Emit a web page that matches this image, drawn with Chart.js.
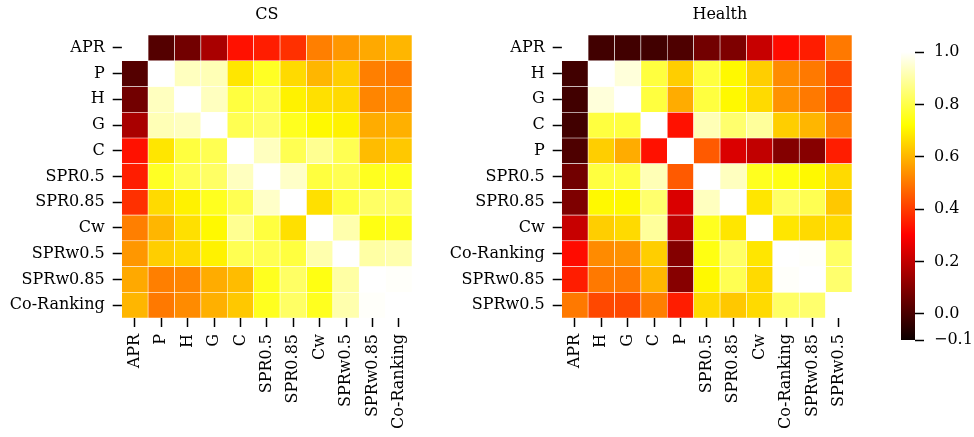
<!DOCTYPE html>
<html>
<head>
<meta charset="utf-8">
<script src="https://cdn.jsdelivr.net/npm/chart.js@4.4.1/dist/chart.umd.min.js"></script>
<style>
  html, body { margin: 0; padding: 0; background: #fff; }
  body { width: 974px; height: 437px; position: relative; overflow: hidden; }
  .box { position: absolute; top: 0; height: 437px; }
  canvas { display: block; }
</style>
</head>
<body>
<div class="box" style="left:0px;width:440px;"><canvas id="cs" width="440" height="437"></canvas></div>
<div class="box" style="left:440px;width:440px;"><canvas id="health" width="440" height="437"></canvas></div>
<div class="box" style="left:880px;width:94px;"><canvas id="cbar" width="94" height="437"></canvas></div>
<script>
// ---------------- data ----------------
const VMIN = -0.1;
const VMAX = 1.0;
const colorbarTicks = [-0.1, 0.0, 0.2, 0.4, 0.6, 0.8, 1.0];

const csTitle = 'CS';
const csLabels = ['APR', 'P', 'H', 'G', 'C', 'SPR0.5', 'SPR0.85', 'Cw', 'SPRw0.5', 'SPRw0.85', 'Co-Ranking'];
const csValues = [
  [1.00, 0.02, 0.07, 0.16, 0.33, 0.35, 0.38, 0.51, 0.55, 0.58, 0.60],
  [0.02, 1.00, 0.93, 0.92, 0.68, 0.76, 0.66, 0.60, 0.64, 0.51, 0.50],
  [0.07, 0.93, 1.00, 0.93, 0.79, 0.81, 0.70, 0.67, 0.66, 0.52, 0.53],
  [0.16, 0.92, 0.93, 1.00, 0.81, 0.83, 0.755, 0.71, 0.70, 0.585, 0.59],
  [0.33, 0.68, 0.79, 0.81, 1.00, 0.93, 0.81, 0.88, 0.81, 0.61, 0.63],
  [0.35, 0.76, 0.81, 0.83, 0.93, 1.00, 0.94, 0.79, 0.81, 0.755, 0.755],
  [0.38, 0.66, 0.70, 0.755, 0.81, 0.94, 1.00, 0.67, 0.79, 0.83, 0.83],
  [0.51, 0.60, 0.67, 0.71, 0.88, 0.79, 0.67, 1.00, 0.91, 0.74, 0.755],
  [0.55, 0.64, 0.66, 0.70, 0.81, 0.81, 0.79, 0.91, 1.00, 0.90, 0.91],
  [0.58, 0.51, 0.52, 0.585, 0.61, 0.755, 0.83, 0.74, 0.90, 1.00, 0.995],
  [0.60, 0.50, 0.53, 0.59, 0.63, 0.755, 0.83, 0.755, 0.91, 0.995, 1.00]
];

const healthTitle = 'Health';
const healthLabels = ['APR', 'H', 'G', 'C', 'P', 'SPR0.5', 'SPR0.85', 'Cw', 'Co-Ranking', 'SPRw0.85', 'SPRw0.5'];
const healthValues = [
  [1.00, -0.01, -0.01, -0.01, 0.01, 0.07, 0.09, 0.21, 0.32, 0.35, 0.50],
  [-0.01, 1.00, 0.96, 0.79, 0.64, 0.79, 0.71, 0.64, 0.53, 0.50, 0.42],
  [-0.01, 0.96, 1.00, 0.79, 0.585, 0.79, 0.71, 0.66, 0.54, 0.50, 0.42],
  [-0.01, 0.79, 0.79, 1.00, 0.33, 0.92, 0.84, 0.89, 0.64, 0.60, 0.51],
  [0.01, 0.64, 0.585, 0.33, 1.00, 0.45, 0.24, 0.20, 0.10, 0.105, 0.35],
  [0.07, 0.79, 0.79, 0.92, 0.45, 1.00, 0.93, 0.755, 0.74, 0.71, 0.66],
  [0.09, 0.71, 0.71, 0.84, 0.24, 0.93, 1.00, 0.68, 0.83, 0.81, 0.63],
  [0.21, 0.64, 0.66, 0.89, 0.20, 0.755, 0.68, 1.00, 0.68, 0.66, 0.66],
  [0.32, 0.53, 0.54, 0.64, 0.10, 0.74, 0.83, 0.68, 1.00, 0.995, 0.83],
  [0.35, 0.50, 0.50, 0.60, 0.105, 0.71, 0.81, 0.66, 0.995, 1.00, 0.84],
  [0.50, 0.42, 0.42, 0.51, 0.35, 0.66, 0.63, 0.66, 0.83, 0.84, 1.00]
];

// ---------------- colormap (matplotlib "hot") ----------------
function hotRGB(t) {
  t = Math.min(1, Math.max(0, t));
  const r = t < 0.365079 ? 0.0416 + (1 - 0.0416) * t / 0.365079 : 1;
  const g = t < 0.365079 ? 0 : (t < 0.746032 ? (t - 0.365079) / (0.746032 - 0.365079) : 1);
  const b = t < 0.746032 ? 0 : (t - 0.746032) / (1 - 0.746032);
  return `rgb(${Math.round(r * 255)},${Math.round(g * 255)},${Math.round(b * 255)})`;
}
function valueColor(v) { return hotRGB((v - VMIN) / (VMAX - VMIN)); }

// ---------------- common styling ----------------
const FONT = "'DejaVu Serif', serif";
const FS = 16;
Chart.defaults.font.family = FONT;
Chart.defaults.font.size = FS;
Chart.defaults.color = '#000';
Chart.defaults.animation = false;

const Y_AXIS_W = 121.7;
const X_AXIS_H = 119;
const TICK_LEN = 9;
const TICK_W = 1.5;

// shifts a chart's title horizontally (matches the reference placement)
const titleShift = {
  id: 'titleShift',
  afterLayout(chart, args, opts) {
    const dx = (opts && opts.dx) || 0;
    if (chart.titleBlock && dx) {
      chart.titleBlock.left += dx;
      chart.titleBlock.right += dx;
    }
  }
};

function heatmap(canvasId, title, labels, values, titleDx) {
  const datasets = values.map((row, i) => ({
    label: labels[i],
    data: row.map(() => [i, i + 1]),
    backgroundColor: row.map(valueColor),
    borderColor: '#ffffff',
    borderWidth: 0.6,
    borderSkipped: false,
    barPercentage: 1.0,
    categoryPercentage: 1.0,
    grouped: false
  }));
  return new Chart(document.getElementById(canvasId), {
    type: 'bar',
    data: { labels: labels, datasets: datasets },
    plugins: [titleShift],
    options: {
      responsive: false,
      maintainAspectRatio: false,
      layout: { padding: { left: 0, right: 28, top: 0, bottom: 0 } },
      plugins: {
        legend: { display: false },
        tooltip: { enabled: false },
        titleShift: { dx: titleDx },
        title: {
          display: true,
          text: title,
          fullSize: false,
          color: '#000',
          font: { family: FONT, size: FS, weight: 'normal', lineHeight: 1.2 },
          padding: { top: 5, bottom: 10.8 }
        }
      },
      scales: {
        x: {
          type: 'category',
          offset: true,
          grid: { display: true, drawOnChartArea: false, drawTicks: true, offset: false, tickLength: TICK_LEN, tickWidth: TICK_W, tickColor: '#000' },
          border: { display: false },
          ticks: { minRotation: 90, maxRotation: 90, autoSkip: false, padding: 7, color: '#000', font: { family: FONT, size: FS } },
          afterFit: (s) => { s.height = X_AXIS_H; }
        },
        y: {
          type: 'linear',
          reverse: true,
          min: 0,
          max: labels.length,
          grid: { display: true, drawOnChartArea: false, drawTicks: true, tickLength: TICK_LEN, tickWidth: TICK_W, tickColor: '#000' },
          border: { display: false },
          afterBuildTicks: (s) => { s.ticks = labels.map((_, i) => ({ value: i + 0.5 })); },
          ticks: {
            autoSkip: false,
            padding: 8,
            color: '#000',
            font: { family: FONT, size: FS },
            callback: (v) => labels[Math.floor(v)]
          },
          afterFit: (s) => { s.width = Y_AXIS_W; }
        }
      }
    }
  });
}

heatmap('cs', csTitle, csLabels, csValues, 0);
heatmap('health', healthTitle, healthLabels, healthValues, 13);

// ---------------- colorbar ----------------
function gradientFor(chart) {
  const a = chart.chartArea;
  if (!a) return 'rgba(0,0,0,0)';
  const g = chart.ctx.createLinearGradient(0, a.bottom, 0, a.top);
  [0, 0.365079, 0.746032, 1].forEach(t => g.addColorStop(t, hotRGB(t)));
  return g;
}

new Chart(document.getElementById('cbar'), {
  type: 'bar',
  data: {
    labels: ['colorbar'],
    datasets: [{
      data: [[VMIN, VMAX]],
      backgroundColor: (ctx) => gradientFor(ctx.chart),
      borderWidth: 0,
      barPercentage: 1.0,
      categoryPercentage: 1.0
    }]
  },
  options: {
    responsive: false,
    maintainAspectRatio: false,
    layout: { padding: { left: 21, right: 0, top: 52, bottom: 97 } },
    plugins: { legend: { display: false }, tooltip: { enabled: false }, title: { display: false } },
    scales: {
      x: { display: false },
      y: {
        type: 'linear',
        position: 'right',
        min: VMIN,
        max: VMAX,
        grid: { display: true, drawOnChartArea: false, drawTicks: true, tickLength: TICK_LEN, tickWidth: TICK_W, tickColor: '#000' },
        border: { display: false },
        afterBuildTicks: (s) => { s.ticks = colorbarTicks.map(v => ({ value: v })); },
        ticks: {
          padding: 10,
          color: '#000',
          font: { family: FONT, size: FS },
          callback: (v) => (v < 0 ? '\u2212' + Math.abs(v).toFixed(1) : v.toFixed(1))
        },
        afterFit: (s) => { s.width = 59; }
      }
    }
  }
});
</script>
</body>
</html>
